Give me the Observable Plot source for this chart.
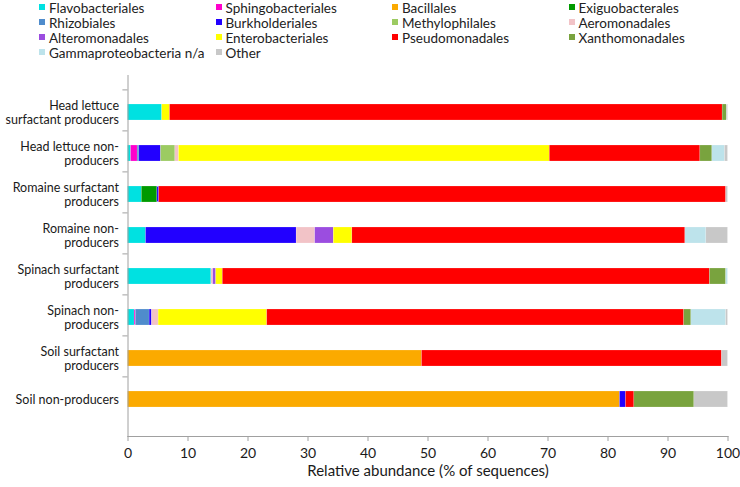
<!DOCTYPE html>
<html>
<head>
<meta charset="utf-8">
<script src="https://cdn.jsdelivr.net/npm/d3@7"></script>
<script src="https://cdn.jsdelivr.net/npm/@observablehq/plot@0.6"></script>
<style>
  html, body { margin: 0; padding: 0; background: #fff; }
  #wrap { position: relative; width: 740px; height: 487px; overflow: hidden; font-family: Lato, "Open Sans", sans-serif; }
  #legend { position: absolute; left: 0; top: 0; width: 740px; height: 62px; }
  .item { position: absolute; font-size: 13.5px; line-height: 15px; height: 15px; color: #222; white-space: nowrap; }
  .sw { display: inline-block; width: 6px; height: 6px; margin-right: 4px; vertical-align: 3px; }
  #chart { position: absolute; left: 0; top: 0; }
</style>
</head>
<body>
<div id="wrap">
  <div id="chart"></div>
  <div id="legend"></div>
</div>
<script>
const samples = [
  "Head lettuce surfactant producers",
  "Head lettuce non-producers",
  "Romaine surfactant producers",
  "Romaine non-producers",
  "Spinach surfactant producers",
  "Spinach non-producers",
  "Soil surfactant producers",
  "Soil non-producers"
];
const sampleLabels = [
  "Head lettuce\nsurfactant producers",
  "Head lettuce non-\nproducers",
  "Romaine surfactant\nproducers",
  "Romaine non-\nproducers",
  "Spinach surfactant\nproducers",
  "Spinach non-\nproducers",
  "Soil surfactant\nproducers",
  "Soil non-producers"
];
const orders = [
  "Flavobacteriales", "Sphingobacteriales", "Bacillales", "Exiguobacterales",
  "Rhizobiales", "Burkholderiales", "Methylophilales", "Aeromonadales",
  "Alteromonadales", "Enterobacteriales", "Pseudomonadales", "Xanthomonadales",
  "Gammaproteobacteria n/a", "Other"
];
const orderColors = [
  "#00e1e1", "#ff00cc", "#fbaa00", "#009a00",
  "#4f8ccc", "#2200ff", "#9ccb62", "#f2c3c7",
  "#9b4de0", "#ffff00", "#ff0000", "#79a33e",
  "#bde3eb", "#c8c8c8"
];
// values per order, in the sample order above (% of sequences)
const flavobacteriales   = [5.7, 0.5, 2.3, 3.0, 13.9, 1.1, 0, 0];
const sphingobacteriales = [0, 1.1, 0, 0, 0, 0.2, 0, 0];
const bacillales         = [0, 0, 0, 0, 0, 0, 49.0, 82.0];
const exiguobacterales   = [0, 0, 2.6, 0, 0, 0, 0, 0];
const rhizobiales        = [0, 0.3, 0, 0, 0, 2.3, 0, 0];
const burkholderiales    = [0, 3.6, 0.3, 25.1, 0, 0.4, 0, 1.0];
const methylophilales    = [0, 2.4, 0, 0, 0, 0, 0, 0];
const aeromonadales      = [0, 0.6, 0, 3.1, 0.3, 1.1, 0, 0];
const alteromonadales    = [0, 0, 0, 3.1, 0.5, 0, 0, 0];
const enterobacteriales  = [1.3, 61.8, 0, 3.1, 1.1, 18.1, 0, 0];
const pseudomonadales    = [92.1, 25.1, 94.5, 55.5, 81.2, 69.5, 50.0, 1.4];
const xanthomonadales    = [0.7, 2.0, 0, 0, 2.7, 1.2, 0, 10.0];
const gammaNA            = [0, 2.1, 0, 3.5, 0.3, 5.8, 0, 0];
const other              = [0.2, 0.5, 0.3, 3.6, 0, 0.3, 1.0, 5.6];
const xTicks = [0, 10, 20, 30, 40, 50, 60, 70, 80, 90, 100];
const xLabel = "Relative abundance (% of sequences)";

const series = [flavobacteriales, sphingobacteriales, bacillales, exiguobacterales,
  rhizobiales, burkholderiales, methylophilales, aeromonadales, alteromonadales,
  enterobacteriales, pseudomonadales, xanthomonadales, gammaNA, other];

const data = [];
orders.forEach((o, i) => samples.forEach((s, j) => {
  if (series[i][j] > 0) data.push({order: o, sample: s, value: series[i][j]});
}));
const labelOf = new Map(samples.map((s, i) => [s, sampleLabels[i]]));

const font = "Lato, 'Open Sans', sans-serif";
const chart = Plot.plot({
  width: 740,
  height: 487,
  marginTop: 75,
  marginBottom: 51,
  marginLeft: 127.5,
  marginRight: 12.5,
  style: {fontFamily: font, color: "#1a1a1a", background: "transparent"},
  x: {type: "linear", domain: [0, 100]},
  y: {type: "band", domain: samples, padding: 0.6},
  color: {domain: orders, range: orderColors},
  marks: [
    Plot.barX(data, {x: "value", y: "sample", fill: "order", stroke: "#ffffff", strokeWidth: 0.3, strokeOpacity: 0.6}),
    Plot.ruleY(samples, {y: d => d, x1: -0.85, x2: 0, dy: -22.6, stroke: "#a0a0a0"}),
    Plot.frame({anchor: "bottom", stroke: "#a0a0a0"}),
    Plot.frame({anchor: "left", stroke: "#a0a0a0"}),
    Plot.axisX({ticks: xTicks, tickSize: 5, tickPadding: 7, stroke: "#a0a0a0", fontSize: 14, label: null}),
    Plot.text([xLabel], {frameAnchor: "bottom", dy: 39, fontSize: 15, fill: "#1a1a1a"}),
    Plot.axisY({tickSize: 0, tickPadding: 9, fontSize: 12.5, lineHeight: 1.12, tickFormat: d => labelOf.get(d), label: null})
  ]
});
document.getElementById("chart").appendChild(chart);

// legend: 4 columns, row-major
const leg = document.getElementById("legend");
orders.forEach((o, i) => {
  const col = i % 4, row = Math.floor(i / 4);
  const el = document.createElement("div");
  el.className = "item";
  el.style.left = (39 + col * 176.5) + "px";
  el.style.top = (row * 15 + 1) + "px";
  el.innerHTML = `<span class="sw" style="background:${orderColors[i]}"></span>${o}`;
  leg.appendChild(el);
});
</script>
</body>
</html>
